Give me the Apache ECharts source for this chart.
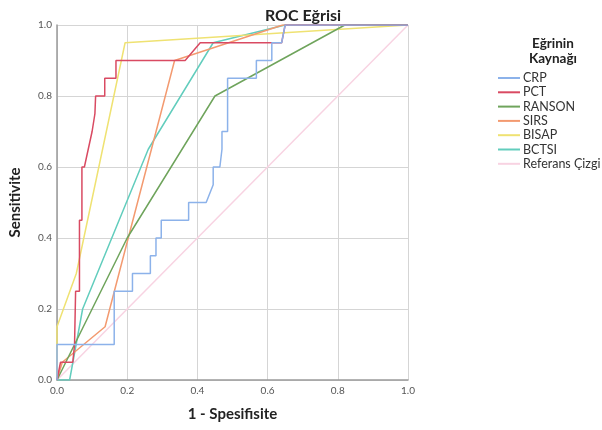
<!DOCTYPE html>
<html>
<head>
<meta charset="utf-8">
<script src="https://cdn.jsdelivr.net/npm/echarts@6/dist/echarts.min.js"></script>
<style>
  html, body { margin: 0; padding: 0; background: #fff; }
  #chart { width: 602px; height: 430px; }
</style>
</head>
<body>
<div id="chart"></div>
<script>
// ROC points: 1 - specificity (x) and sensitivity (y)
const crpX = [0, 0, 0.163, 0.163, 0.215, 0.215, 0.266, 0.266, 0.282, 0.282, 0.297, 0.297, 0.375, 0.375, 0.425, 0.445, 0.445, 0.464, 0.47, 0.47, 0.486, 0.486, 0.568, 0.568, 0.612, 0.612, 0.64, 0.65, 1]
const crpY = [0, 0.1, 0.1, 0.25, 0.25, 0.3, 0.3, 0.35, 0.35, 0.4, 0.4, 0.45, 0.45, 0.5, 0.5, 0.55, 0.6, 0.6, 0.65, 0.7, 0.7, 0.85, 0.85, 0.9, 0.9, 0.95, 0.95, 1, 1]

const pctX = [0, 0.01, 0.045, 0.05, 0.053, 0.064, 0.064, 0.071, 0.071, 0.078, 0.1, 0.108, 0.11, 0.136, 0.136, 0.168, 0.168, 0.365, 0.408, 0.64, 0.65, 1]
const pctY = [0, 0.05, 0.05, 0.1, 0.25, 0.25, 0.45, 0.45, 0.6, 0.6, 0.7, 0.75, 0.8, 0.8, 0.85, 0.85, 0.9, 0.9, 0.95, 0.95, 1, 1]

const ransonX = [0, 0.2, 0.45, 0.82, 1]
const ransonY = [0, 0.4, 0.8, 1, 1]

const sirsX = [0, 0.015, 0.137, 0.335, 0.643, 1]
const sirsY = [0, 0.05, 0.15, 0.9, 1, 1]

const bisapX = [0, 0, 0.055, 0.194, 1]
const bisapY = [0, 0.15, 0.3, 0.95, 1]

const bctsiX = [0, 0.036, 0.073, 0.26, 0.445, 0.65, 1]
const bctsiY = [0, 0, 0.2, 0.65, 0.95, 1, 1]

const refX = [0, 1]
const refY = [0, 1]

const seriesNames = ['CRP', 'PCT', 'RANSON', 'SIRS', 'BISAP', 'BCTSI', 'Referans Çizgi']
const seriesColors = ['#8cb2ea', '#d94a62', '#6fa45c', '#f39a70', '#efe272', '#62cdbd', '#f8d3e2']
const seriesX = [crpX, pctX, ransonX, sirsX, bisapX, bctsiX, refX]
const seriesY = [crpY, pctY, ransonY, sirsY, bisapY, bctsiY, refY]

const FONT = 'Lato'

const chart = echarts.init(document.getElementById('chart'))

const series = seriesNames.map((name, i) => ({
  name,
  type: 'line',
  data: seriesX[i].map((x, j) => [x, seriesY[i][j]]),
  showSymbol: false,
  animation: false,
  color: seriesColors[i],
  lineStyle: { width: 1.5, color: seriesColors[i] },
  z: i === 6 ? 1 : 2 + (6 - i),
}))

const option = {
  animation: false,
  title: [
    {
      text: 'ROC Eğrisi',
      left: 298,
      top: 3,
      textAlign: 'center',
      textStyle: { fontFamily: FONT, fontSize: 16, fontWeight: 'bold', color: '#222' },
    },
    {
      text: 'Eğrinin\nKaynağı',
      left: 548,
      top: 31,
      textAlign: 'center',
      textStyle: { fontFamily: FONT, fontSize: 13.5, fontWeight: 'bold', color: '#222', lineHeight: 15 },
    },
  ],
  legend: {
    orient: 'vertical',
    left: 493,
    top: 66,
    icon: 'rect',
    itemWidth: 22,
    itemHeight: 2,
    itemGap: 0.3,
    data: seriesNames,
    textStyle: { fontFamily: FONT, fontSize: 12.5, color: '#333', lineHeight: 14, padding: [0, 0, 0, -2] },
  },
  grid: {
    left: 54,
    right: 194,
    top: 25,
    bottom: 50,
  },
  xAxis: {
    type: 'value',
    min: 0,
    max: 1,
    interval: 0.2,
    name: '1 - Spesifisite',
    nameLocation: 'middle',
    nameGap: 27,
    nameTextStyle: { fontFamily: FONT, fontSize: 15, fontWeight: 'bold', color: '#222' },
    axisLine: { lineStyle: { color: '#9a9a9a', width: 1.5 } },
    axisTick: { show: false },
    axisLabel: {
      fontFamily: FONT,
      fontSize: 10,
      color: '#555',
      margin: 6,
      formatter: v => v.toFixed(1),
    },
    splitLine: { show: true, lineStyle: { color: '#d5d5d5', width: 1 } },
  },
  yAxis: {
    type: 'value',
    min: 0,
    max: 1,
    interval: 0.2,
    name: 'Sensitivite',
    nameLocation: 'middle',
    nameGap: 34,
    nameTextStyle: { fontFamily: FONT, fontSize: 15, fontWeight: 'bold', color: '#222' },
    axisLine: { show: true, lineStyle: { color: '#9a9a9a', width: 1.5 } },
    axisTick: { show: false },
    axisLabel: {
      fontFamily: FONT,
      fontSize: 10,
      color: '#555',
      margin: 5,
      formatter: v => v.toFixed(1),
    },
    splitLine: { show: true, lineStyle: { color: '#d5d5d5', width: 1 } },
  },
  series,
}

chart.setOption(option)
</script>
</body>
</html>
